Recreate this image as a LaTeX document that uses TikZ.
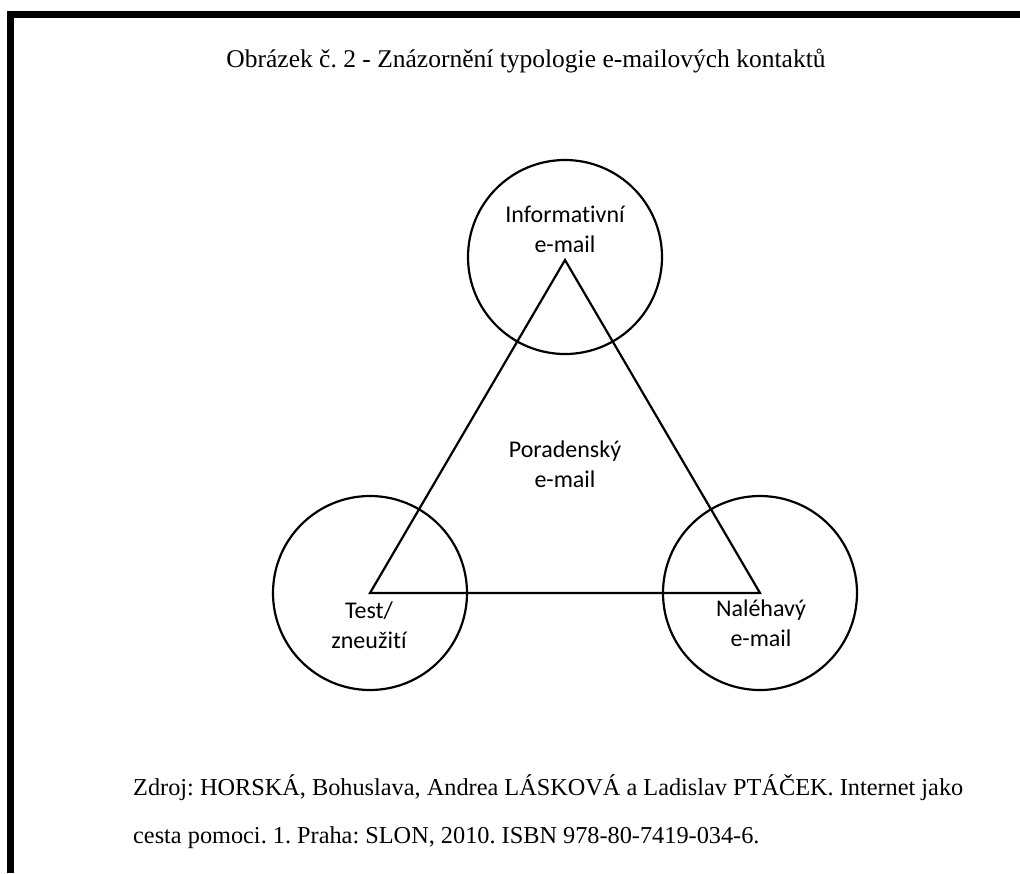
\documentclass[tikz,border=0pt]{standalone}
\usepackage{fontspec}
\setmainfont{Liberation Serif}
\newfontfamily\labelfont[Ligatures=NoCommon]{Carlito}
\frenchspacing
\begin{document}
\begin{tikzpicture}[x=1pt,y=1pt,
  frameline/.style={line width=7pt},
  ring/.style={circle,draw,line width=2.2pt,minimum size=194pt,inner sep=0pt},
  tri/.style={draw,line width=2.2pt,line join=miter},
  lbl/.style={font=\labelfont\fontsize{24}{30}\selectfont,align=center,anchor=base,inner sep=0pt},
  titletext/.style={font=\fontsize{25.5}{30}\selectfont,anchor=base,inner sep=0pt},
  src/.style={font=\fontsize{24.3}{48}\selectfont,anchor=base west,inner sep=0pt}]
\useasboundingbox (0,0) rectangle (1020,-873);
% frame
\draw[frameline] (10.5,-873) -- (10.5,-14) -- (1020,-14);
% title
\node[titletext] (title) at (526,-67) {Obrázek č. 2 - Znázornění typologie e-mailových kontaktů};
% circles
\node[ring] (ctop) at (565,-257) {};
\node[ring] (cleft) at (370,-593) {};
\node[ring] (cright) at (760,-593) {};
% triangle
\coordinate (ti) at (565,-260);
\coordinate (tl) at (370,-593);
\coordinate (tr) at (760,-593);
\draw[tri] (ti) -- (tl) -- (tr) -- cycle;
% labels
\node[lbl] (linf) at (565,-252) {Informativní\\e-mail};
\node[lbl] (lpor) at (565,-487) {Poradenský\\e-mail};
\node[lbl] (ltest) at (369,-648) {Test/\\zneužití};
\node[lbl] (lnal) at (761,-646) {Naléhavý\\e-mail};
% source
\node[src] (src1) at (133,-795) {Zdroj: HORSKÁ, Bohuslava, Andrea LÁSKOVÁ a Ladislav PTÁČEK. Internet jako};
\node[src] (src2) at (133,-843) {cesta pomoci. 1. Praha: SLON, 2010. ISBN 978-80-7419-034-6.};
\end{tikzpicture}
\end{document}
